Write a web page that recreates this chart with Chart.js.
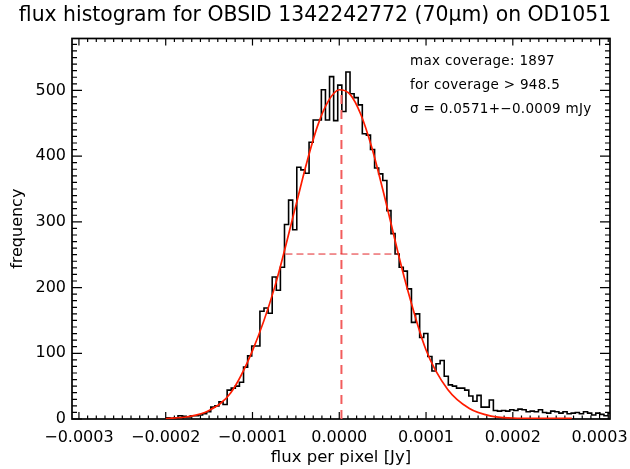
<!DOCTYPE html>
<html>
<head>
<meta charset="utf-8">
<script src="https://cdn.jsdelivr.net/npm/chart.js@4.4.1/dist/chart.umd.min.js"></script>
<style>
  body { margin: 0; background: #fff; }
</style>
</head>
<body>
<canvas id="histChart" width="630" height="469"></canvas>
<script>
// histogram bins: first bin starts at -0.0002 Jy, all bins same width
const binStart = -0.0002;
const binWidth = 0.00000472;
const binCounts = [
    2, 1, 2, 5, 4, 3, 5, 5, 6, 8, 11, 18, 20, 26, 22, 44, 47, 50, 56, 79,
    96, 111, 111, 164, 169, 161, 216, 196, 231, 296, 333, 288, 383, 379, 374,
    421, 455, 455, 501, 455, 521, 454, 508, 468, 528, 495, 489, 478, 434, 432,
    410, 382, 373, 363, 317, 282, 251,
    231, 225, 198, 147, 160, 124, 130, 95, 73, 84, 89, 65, 52, 50, 47,
    47, 44, 35, 27, 36, 18, 18, 29, 13, 12, 13, 12, 14, 13, 15, 14, 11, 12,
    11, 14, 10, 9, 12, 11, 9, 11, 8, 9, 10, 8, 11, 9, 6, 9, 7, 5, 9, 6
];

// red gaussian fit
const fitX = [-0.0002, -0.000175, -0.00015, -0.000125, -0.0001, -0.000075, -0.00005,
    -0.0000375, -0.000025, -0.0000125, 0, 0.0000125, 0.000025, 0.0000375, 0.00005,
    0.000075, 0.0001, 0.000125, 0.00015, 0.000175, 0.0002, 0.000225, 0.00025, 0.000268];
const fitY = [0.7, 3.4, 13, 40, 104, 198, 325, 390, 446, 484, 501, 494, 463, 413, 350,
    215, 105, 45, 16, 4.4, 1.5, 0.8, 0.8, 0.8];

// peak marker + half maximum line
const fitCentre = 0.0000025;
const fitPeak = 502;
const halfMaxFrom = -0.000062;
const halfMaxTo = 0.000066;

const xTicks = [-0.0003, -0.0002, -0.0001, 0, 0.0001, 0.0002, 0.0003];
const yTicks = [0, 100, 200, 300, 400, 500];

const titleText = "flux histogram for OBSID 1342242772 (70\u03bcm) on OD1051";
const notes = ["max coverage: 1897", "for coverage > 948.5", "\u03c3 = 0.0571+\u22120.0009 mJy"];

const FONT = "DejaVu Sans";

function fmtX(v) {
    if (Math.abs(v) < 1e-12) return "0.0000";
    return v.toFixed(4).replace("-", "\u2212");
}

// IDL style frame with inward ticks on all four sides + the text block
const idlFrame = {
    id: "idlFrame",
    beforeDatasetsDraw(chart) {
        const { ctx, chartArea: a, scales: { x, y } } = chart;
        ctx.save();
        ctx.strokeStyle = "#000";
        ctx.lineWidth = 1.2;
        ctx.beginPath();
        for (let i = -35; i <= 35; i++) {
            let v = i * 0.00001;
            if (v < x.min || v > x.max) continue;
            let px = x.getPixelForValue(v);
            let len = i % 10 === 0 ? 7 : 3.5;
            ctx.moveTo(px, a.bottom); ctx.lineTo(px, a.bottom - len);
            ctx.moveTo(px, a.top); ctx.lineTo(px, a.top + len);
        }
        for (let j = 0; j * 10 <= y.max; j++) {
            let py = y.getPixelForValue(j * 10);
            let len = j % 10 === 0 ? 10 : 5;
            ctx.moveTo(a.left, py); ctx.lineTo(a.left + len, py);
            ctx.moveTo(a.right, py); ctx.lineTo(a.right - len, py);
        }
        ctx.stroke();

        ctx.lineWidth = 1.7;
        ctx.strokeRect(a.left, a.top, a.right - a.left, a.bottom - a.top);

        ctx.fillStyle = "#000";
        ctx.font = "13.5px '" + FONT + "'";
        ctx.letterSpacing = "0.3px";
        ctx.textAlign = "left";
        ctx.textBaseline = "middle";
        notes.forEach((t, k) => ctx.fillText(t, 410, 61 + k * 24));
        ctx.restore();
    }
};

let histPoints = binCounts.map((c, i) => ({ x: binStart + i * binWidth, y: c }));
histPoints.push({ x: binStart + binCounts.length * binWidth, y: binCounts[binCounts.length - 1] });

let fitPoints = fitX.map((v, i) => ({ x: v, y: fitY[i] }));

new Chart(document.getElementById("histChart"), {
    type: "line",
    data: {
        datasets: [
            {
                data: [{ x: halfMaxFrom, y: fitPeak / 2 }, { x: halfMaxTo, y: fitPeak / 2 }],
                borderColor: "#e3262a", borderWidth: 1, borderDash: [7, 4], pointRadius: 0
            },
            {
                data: [{ x: fitCentre, y: 0 }, { x: fitCentre, y: fitPeak }],
                borderColor: "#f25c5c", borderWidth: 2, borderDash: [9, 6], pointRadius: 0
            },
            {
                data: fitPoints,
                borderColor: "#ff1c00", borderWidth: 1.7, pointRadius: 0,
                cubicInterpolationMode: "monotone"
            },
            {
                data: histPoints,
                borderColor: "#000", borderWidth: 1.6, pointRadius: 0, stepped: true
            }
        ]
    },
    options: {
        responsive: false,
        animation: false,
        devicePixelRatio: 1,
        layout: { padding: 0 },
        plugins: {
            legend: { display: false },
            tooltip: { enabled: false },
            title: {
                display: true,
                text: titleText,
                color: "#000",
                font: { family: FONT, size: 20.4, weight: "normal" },
                padding: { top: 3, bottom: 11 }
            }
        },
        scales: {
            x: {
                type: "linear",
                min: -0.000308,
                max: 0.000312,
                afterBuildTicks: s => { s.ticks = xTicks.map(v => ({ value: v })); },
                afterFit: s => { s.height = 50; s.paddingLeft = 0; s.paddingRight = 0; },
                grid: { display: false, drawTicks: false },
                border: { display: false },
                ticks: {
                    color: "#000", font: { family: FONT, size: 16 }, padding: 9,
                    maxRotation: 0, autoSkip: false, callback: v => fmtX(v)
                },
                title: {
                    display: true, text: "flux per pixel [Jy]", color: "#000",
                    font: { family: FONT, size: 16.5 }, padding: { top: 0, bottom: 1 }
                }
            },
            y: {
                type: "linear",
                min: 0,
                max: 579,
                afterBuildTicks: s => { s.ticks = yTicks.map(v => ({ value: v })); },
                afterFit: s => { s.width = 72; s.paddingTop = 0; s.paddingBottom = 0; },
                grid: { display: false, drawTicks: false },
                border: { display: false },
                ticks: { color: "#000", font: { family: FONT, size: 16 }, padding: 6 },
                title: {
                    display: true, text: "frequency", color: "#000",
                    font: { family: FONT, size: 16 }, padding: { top: 8, bottom: 0 }
                }
            },
            // empty right axis, only keeps the right margin
            yRight: {
                type: "linear",
                position: "right",
                afterFit: s => { s.width = 20; },
                grid: { display: false, drawTicks: false },
                border: { display: false },
                ticks: { display: false }
            }
        }
    },
    plugins: [idlFrame]
});
</script>
</body>
</html>
